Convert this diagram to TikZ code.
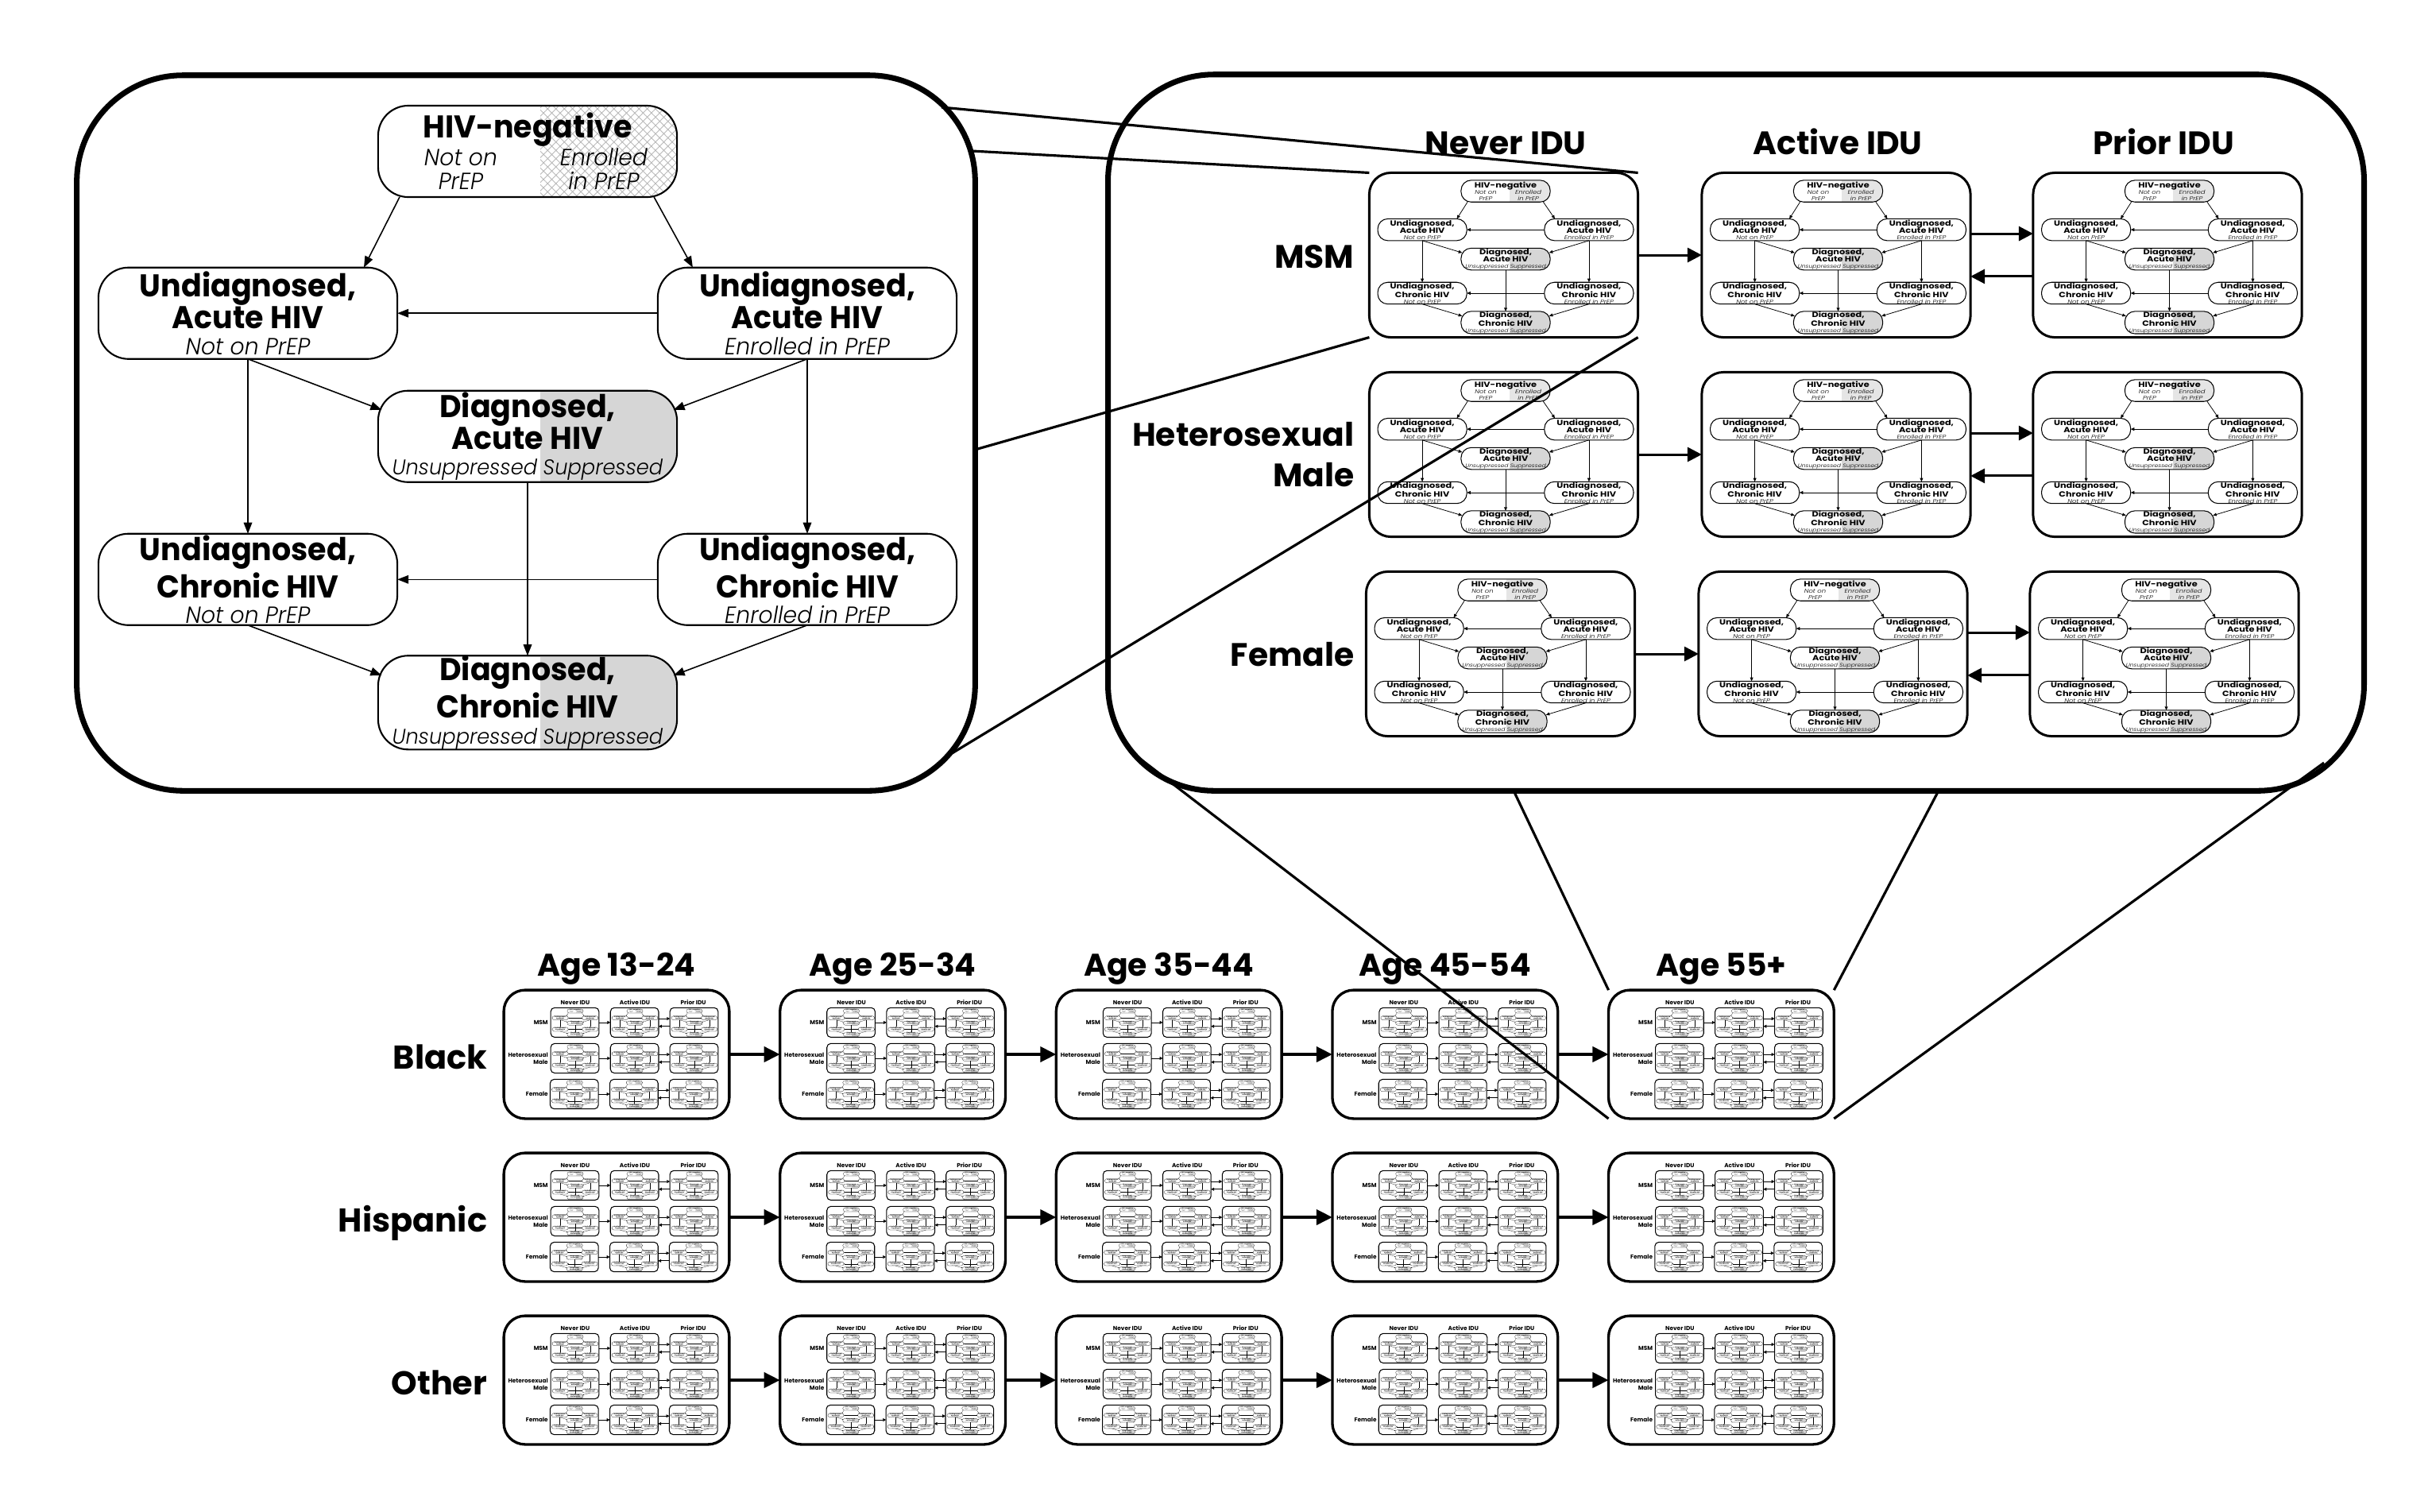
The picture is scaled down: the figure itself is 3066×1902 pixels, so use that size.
\documentclass[tikz,border=0pt]{standalone}
\usepackage{fontspec}
\setmainfont{Poppins}
\newfontfamily\sdfam[FakeStretch=1.2]{Poppins}
\newfontfamily\sdlightfam[FakeStretch=1.2]{Poppins Light Italic}
\usetikzlibrary{arrows.meta,calc,patterns.meta}

% fonts of the state boxes and of the outer labels
\newcommand{\sdbold}{\sdfam\bfseries\fontsize{9pt}{9.1pt}\selectfont}
\newcommand{\sdital}{\sdlightfam\mdseries\upshape\fontsize{6.7pt}{7pt}\selectfont}
\newcommand{\sdsupp}{\sdlightfam\mdseries\upshape\fontsize{6.1pt}{7pt}\selectfont}
\newcommand{\labfont}{\bfseries\fontsize{11.6pt}{14.5pt}\selectfont}
\newcommand{\agefont}{\bfseries\fontsize{11.2pt}{13pt}\selectfont}
\newcommand{\racefont}{\bfseries\fontsize{11.8pt}{14pt}\selectfont}
\newcommand{\hivcols}[2]{\hspace*{3.4pt}\makebox[51.2pt]{#1}\makebox[51.2pt]{#2}}

\tikzset{
  % state boxes of the HIV model
  sdshape/.style={rounded corners=10.8pt},
  sdlw/.style={line width=0.6pt},
  sdnode/.style={draw, sdshape, sdlw, minimum width=3.76cm, minimum height=0.92cm,
    inner sep=0pt, outer sep=0pt, align=center, font=\sdbold},
  sdarrow/.style={line width=0.45pt, -{Triangle[length=4pt,width=3pt]}},
  negpart/.style={pattern={Hatch[angle=45,distance=2.1pt,line width=0.25pt]}, pattern color=black!28},
  dxpart/.style={fill=black!16},
  % risk group by IDU grid
  gridouter/.style={draw, line width=2pt, rounded corners=38pt, minimum width=15.8cm,
    minimum height=9.01cm, inner sep=0pt, outer sep=0pt},
  gridbox/.style={draw, line width=0.85pt, rounded corners=7.7pt, minimum width=3.38cm,
    minimum height=2.07cm, inner sep=0pt, outer sep=0pt},
  gridarrow/.style={line width=0.85pt, -{Triangle[length=5.1pt,width=5.1pt]}},
  gridlabel/.style={font=\labfont, inner sep=0pt},
  % outer picture
  bigbox/.style={draw, line width=2pt, rounded corners=38pt, inner sep=0pt, outer sep=0pt},
  tilearrow/.style={line width=1.15pt, -{Triangle[length=5.7pt,width=5.4pt]}},
  zoomline/.style={line width=0.9pt},
  agelabel/.style={font=\agefont, inner sep=0pt},
  racelabel/.style={font=\racefont, inner sep=0pt},
  % settings for each magnification
  level tl/.style={},
  level mid/.style={
    sdshape/.style={rounded corners=3.6pt},
    sdlw/.style={line width=0.3pt},
    sdarrow/.style={line width=0.22pt, -{Triangle[length=1.3pt,width=1.1pt]}},
    negpart/.style={fill=black!10}},
  level tile/.style={
    sdshape/.style={rounded corners=0.7pt},
    sdlw/.style={line width=0.06pt},
    sdarrow/.style={line width=0.05pt, -{Triangle[length=0.3pt,width=0.25pt]}},
    negpart/.style={fill=black!10},
    gridouter/.style={draw, line width=0.95pt, rounded corners=7.6pt, minimum width=15.8cm,
      minimum height=9.01cm, inner sep=0pt, outer sep=0pt},
    gridbox/.style={draw, line width=0.3pt, rounded corners=1.4pt, minimum width=3.38cm,
      minimum height=2.07cm, inner sep=0pt, outer sep=0pt},
    gridarrow/.style={line width=0.22pt, -{Triangle[length=1.1pt,width=1.1pt]}}},
  % one HIV model: seven states and their transitions
  pics/statediag/.style={code={
    \begin{scope}
      \clip[sdshape] (-188,-316) rectangle (188,-224);
      \path[negpart] (16,-316) rectangle (188,-224);
    \end{scope}
    \begin{scope}
      \clip[sdshape] (-188,-29) rectangle (188,63);
      \path[dxpart] (16,-29) rectangle (188,63);
    \end{scope}
    \begin{scope}
      \clip[sdshape] (-188,239) rectangle (188,331);
      \path[dxpart] (16,239) rectangle (188,331);
    \end{scope}
    \node[sdnode] (-neg) at (0,-270) {HIV-negative\\[-1.3pt]{\sdital\hivcols{Not on}{Enrolled}}\\[-2.1pt]{\sdital\hivcols{PrEP}{in PrEP}}};
    \node[sdnode] (-uan) at (-352,-107) {Undiagnosed,\\Acute HIV\\[-1.7pt]{\sdital Not on PrEP}};
    \node[sdnode] (-uae) at (352,-107) {Undiagnosed,\\Acute HIV\\[-1.7pt]{\sdital Enrolled in PrEP}};
    \node[sdnode] (-da) at (0,17) {Diagnosed,\\Acute HIV\\[-1.7pt]{\sdsupp Unsuppressed Suppressed}};
    \node[sdnode] (-ucn) at (-352,161) {Undiagnosed,\\Chronic HIV\\[-1.7pt]{\sdital Not on PrEP}};
    \node[sdnode] (-uce) at (352,161) {Undiagnosed,\\Chronic HIV\\[-1.7pt]{\sdital Enrolled in PrEP}};
    \node[sdnode] (-dc) at (0,285) {Diagnosed,\\Chronic HIV\\[-1.7pt]{\sdsupp Unsuppressed Suppressed}};
    \draw[sdarrow] ($(-neg.south west)!0.072!(-neg.south east)$) -- ($(-uan.north west)!0.888!(-uan.north east)$);
    \draw[sdarrow] ($(-neg.south west)!0.923!(-neg.south east)$) -- ($(-uae.north west)!0.117!(-uae.north east)$);
    \draw[sdarrow] (-uae.west) -- (-uan.east);
    \draw[sdarrow] (-uce.west) -- (-ucn.east);
    \draw[sdarrow] (-uan.south) -- (-ucn.north);
    \draw[sdarrow] (-uae.south) -- (-uce.north);
    \draw[sdarrow] (-da.south) -- (-dc.north);
    \draw[sdarrow] (-uan.south) -- ($(-da.north west)!0.21!(-da.south west) + 0.012*(-da.north east) - 0.012*(-da.north west)$);
    \draw[sdarrow] (-uae.south) -- ($(-da.north east)!0.21!(-da.south east) - 0.012*(-da.north east) + 0.012*(-da.north west)$);
    \draw[sdarrow] (-ucn.south) -- ($(-dc.north west)!0.21!(-dc.south west) + 0.012*(-dc.north east) - 0.012*(-dc.north west)$);
    \draw[sdarrow] (-uce.south) -- ($(-dc.north east)!0.21!(-dc.south east) - 0.012*(-dc.north east) + 0.012*(-dc.north west)$);
  }},
  % risk group (rows) by injection drug use (columns)
  pics/idugrid/.style={code={
    \node[gridouter] (-box) at (0,0) {};
    \node[gridlabel, anchor=base] (-cnever) at (-290,-350) {Never IDU};
    \node[gridlabel, anchor=base] (-cactive) at (128,-350) {Active IDU};
    \node[gridlabel, anchor=base] (-cprior) at (538,-350) {Prior IDU};
    \node[gridlabel, anchor=base east] (-rmsm) at (-480,-207.5) {MSM};
    \node[gridlabel, anchor=east, align=right] (-rhet) at (-480,28) {Heterosexual\\Male};
    \node[gridlabel, anchor=base east] (-rfem) at (-480,293.5) {Female};
    \foreach \r/\yy/\dx in {1/-223.5/+0, 2/27.5/+0, 3/278.5/-4}{
      \foreach \c/\xx in {1/-292.5, 2/126, 3/543}{
        \node[gridbox] (-b\r\c) at (\xx\dx,\yy) {};
        \pic[scale=0.298, transform shape] (-s\r\c) at (\xx\dx+2.5,\yy) {statediag};
      }
      \draw[gridarrow] (-b\r1.east) -- (-b\r2.west);
      \draw[gridarrow] ($(-b\r2.north east)!0.37!(-b\r2.south east)$) -- ($(-b\r3.north west)!0.37!(-b\r3.south west)$);
      \draw[gridarrow] ($(-b\r3.north west)!0.63!(-b\r3.south west)$) -- ($(-b\r2.north east)!0.63!(-b\r2.south east)$);
    }
  }},
}

\begin{document}
\begin{tikzpicture}[x=0.01cm, y=-0.01cm]
\useasboundingbox (0,0) rectangle (3066,1902);

% enlarged single model
\node[bigbox, minimum width=11.3cm, minimum height=9cm] (tl) at (662,545) {};
\begin{scope}[level tl]
  \pic[yscale=1.25, transform shape] (big) at (664,528) {statediag};
\end{scope}

% one race/age cell: risk group by IDU status
\begin{scope}[level mid]
  \pic (tr) at (2185,544.5) {idugrid};
\end{scope}

% race by age
\begin{scope}[level tile]
  \foreach \r/\yy in {1/1327, 2/1532, 3/1737}{
    \foreach \c/\xx in {1/776, 2/1123.6, 3/1471.2, 4/1818.8, 5/2166.4}{
      \pic[scale=0.1795, transform shape] (t\r\c) at (\xx,\yy) {idugrid};
    }
  }
\end{scope}

\foreach \c/\xx/\txt in {1/776/Age 13-24, 2/1123.6/Age 25-34, 3/1471.2/Age 35-44, 4/1818.8/Age 45-54, 5/2166.4/Age 55+}{
  \node[agelabel, anchor=base] (age\c) at (\xx,1228) {\txt};
}
\node[racelabel, anchor=base east] (black) at (614,1345) {Black};
\node[racelabel, anchor=base east] (hisp) at (614,1550) {Hispanic};
\node[racelabel, anchor=base east] (other) at (614,1755) {Other};

\foreach \r in {1,2,3}{
  \foreach \c/\n in {1/2, 2/3, 3/4, 4/5}{
    \draw[tilearrow] (t\r\c-box.east) -- (t\r\n-box.west);
  }
}

% magnification lines
\coordinate (zA) at (1185,135);
\coordinate (zB) at (1223,190);
\coordinate (zC) at (1227,566);
\coordinate (zD) at (1190,953);
\draw[zoomline] (zA) -- (tr-b11.north east);
\draw[zoomline] (zB) -- (tr-b11.north west);
\draw[zoomline] (zC) -- (tr-b11.south west);
\draw[zoomline] (zD) -- (tr-b11.south east);

\coordinate (zE) at (1435,955);
\coordinate (zF) at (1905,995);
\coordinate (zG) at (2440,995);
\coordinate (zH) at (2925,960);
\draw[zoomline] (zE) -- (t15-box.south west);
\draw[zoomline] (zF) -- (t15-box.north west);
\draw[zoomline] (zG) -- (t15-box.north east);
\draw[zoomline] (zH) -- (t15-box.south east);
\end{tikzpicture}
\end{document}
